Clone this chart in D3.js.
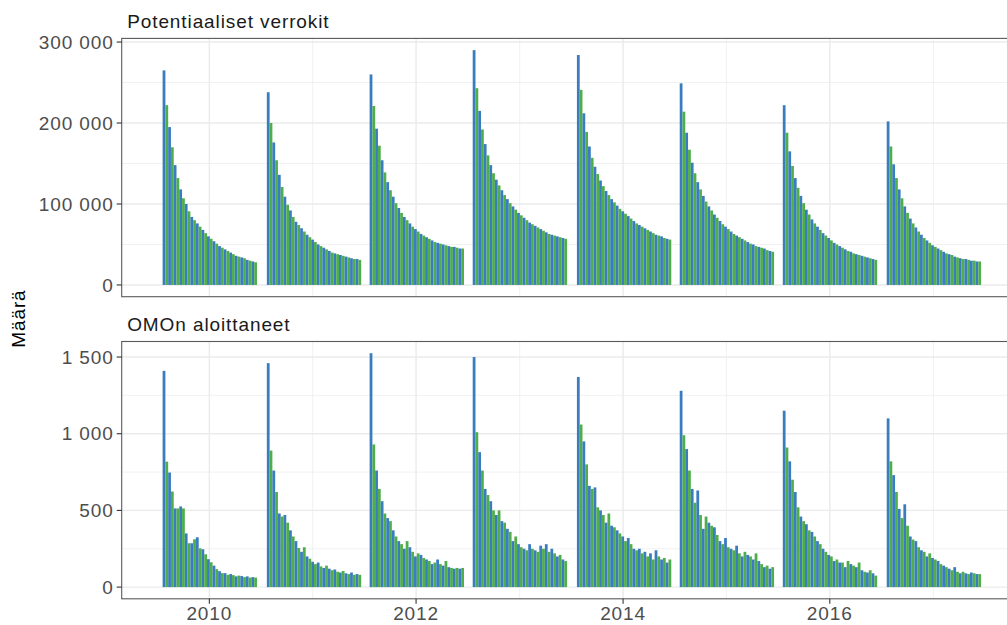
<!DOCTYPE html>
<html><head><meta charset="utf-8">
<script src="https://cdn.jsdelivr.net/npm/d3@7"></script>
<style>
body{margin:0;background:#fff;overflow:hidden}
text{font-family:"Liberation Sans",Arial,sans-serif}
</style>
</head><body><svg id="chart" width="1007" height="625"></svg>
<script>
// ---- data ----
const panelTitles = ["Potentiaaliset verrokit", "OMOn aloittaneet"];
const yTitle = "Määrä";
const seasonStarts = ["2009-07-20","2010-07-23","2011-07-21","2012-07-19","2013-07-22","2014-07-20","2015-07-19","2016-07-20"];
const periodDays = 9.8;
// Potentiaaliset verrokit (thousands)
const verrokitK = [
 [265,222,195,170,148,132,118,107,100,91,84,80,76,72,68,64,60,57,54,51,48,46,44,42,40,38,36,35,34,33,31,30,29,28],
 [238,200,176,154,136,121,109,99,92,84,78,74,70,66,62,59,56,53,50,48,46,44,42,40,39,38,37,36,35,34,33,32,32,31],
 [260,221,193,172,154,139,127,117,109,101,95,89,84,80,76,72,69,66,63,61,59,57,55,53,52,51,50,49,48,47,47,46,45,45],
 [290,243,215,192,174,160,148,138,130,123,117,111,106,101,97,93,89,86,83,80,77,75,73,71,69,67,65,63,62,61,60,59,58,57],
 [284,241,212,189,171,157,146,137,129,122,116,111,106,102,98,94,91,88,85,82,79,76,74,72,70,68,66,64,62,61,60,58,57,56],
 [249,214,188,167,151,138,127,118,110,103,97,92,87,83,79,75,72,69,66,63,61,59,57,55,53,51,50,48,47,46,45,43,42,41],
 [222,188,165,147,132,120,110,101,93,87,81,76,72,68,64,61,58,55,52,50,48,46,44,42,41,39,38,37,36,35,34,33,32,31],
 [202,171,149,132,118,107,97,89,82,76,71,66,62,58,55,52,49,47,45,43,41,39,38,37,35,34,33,32,32,31,30,30,29,29]
];
// OMOn aloittaneet
const aloittaneet = [
 [1410,818,747,623,513,513,526,513,350,286,286,312,325,253,247,214,182,162,140,117,104,91,91,80,85,78,70,75,72,65,70,62,65,62],
 [1460,890,760,620,480,460,470,420,370,330,300,255,230,260,200,185,165,150,160,135,125,140,120,110,115,100,95,105,90,85,95,80,85,80],
 [1525,930,760,640,560,480,450,430,370,330,300,280,250,300,260,230,200,220,210,190,180,170,150,160,180,150,140,170,130,125,120,125,120,125],
 [1500,1010,880,760,640,600,560,500,470,500,430,420,380,360,300,330,280,260,250,240,280,250,240,230,270,250,280,230,250,220,200,210,180,170],
 [1370,1060,950,800,660,640,650,520,500,470,420,480,400,390,370,350,330,300,320,280,250,240,250,220,230,200,220,180,240,200,180,190,160,180],
 [1280,990,900,760,640,550,630,470,380,460,420,400,390,340,300,280,320,260,250,240,270,220,200,230,210,200,180,220,170,150,130,140,120,130],
 [1150,910,820,700,620,520,460,430,410,370,360,330,300,280,250,230,210,200,170,180,160,160,130,170,150,140,130,160,110,100,95,110,90,75],
 [1100,820,730,620,510,450,540,400,330,310,300,260,240,230,200,220,190,180,170,150,140,130,120,110,130,100,90,100,90,85,95,90,85,85]
];
const yTicksTop = [0,100000,200000,300000];
const yMinorTop = [50000,150000,250000];
const yTicksBottom = [0,500,1000,1500];
const yMinorBottom = [250,750,1250];
const xTickYears = [2010,2012,2014,2016];
const xMinorYears = [2009,2011,2013,2015,2017];
const barColors = ["#3a7dbf","#4fae4b"];

// ---- layout ----
const W = 1007, H = 625;
const left = 121.7, right = 1022;
const panels = [
  {title: panelTitles[0], top: 38.4, bottom: 296.7, values: verrokitK.map(g => g.map(v => v*1000)), ticks: yTicksTop, minor: yMinorTop},
  {title: panelTitles[1], top: 341.5, bottom: 598.8, values: aloittaneet, ticks: yTicksBottom, minor: yMinorBottom}
];
const parse = d3.utcParse("%Y-%m-%d");
const DAY = 864e5;
const starts = seasonStarts.map(parse);

function barsFor(values){
  const out = [];
  values.forEach((g, gi) => g.forEach((v, i) => {
    const x0 = new Date(starts[gi].getTime() + i*periodDays*DAY);
    const x1 = new Date(starts[gi].getTime() + (i+1)*periodDays*DAY);
    out.push({x0, x1, v, i});
  }));
  return out;
}
const allBars = barsFor(panels[1].values);
const xmin = d3.min(allBars, d=>d.x0), xmax = d3.max(allBars, d=>d.x1);
const span = xmax - xmin;
const x = d3.scaleUtc().domain([new Date(+xmin - 0.05*span), new Date(+xmax + 0.05*span)]).range([left, right]);

const fmt = d3.formatLocale({decimal:",", thousands:" ", grouping:[3], currency:["",""]}).format(",");

const svg = d3.select("#chart");
svg.append("rect").attr("width",W).attr("height",H).attr("fill","#fff");
const defs = svg.append("defs");

const yearDate = y => new Date(Date.UTC(y,0,1));

panels.forEach((p, pi) => {
  const maxV = d3.max(p.values.flat());
  const y = d3.scaleLinear().domain([-0.05*maxV, 1.05*maxV]).range([p.bottom, p.top]);
  const g = svg.append("g");
  const clipId = "clip"+pi;
  defs.append("clipPath").attr("id",clipId).append("rect")
    .attr("x",left).attr("y",p.top).attr("width",right-left).attr("height",p.bottom-p.top);
  const pg = g.append("g").attr("clip-path",`url(#${clipId})`);
  // grid minor
  pg.selectAll(".gmx").data(xMinorYears).join("line")
    .attr("x1",d=>x(yearDate(d))).attr("x2",d=>x(yearDate(d)))
    .attr("y1",p.top).attr("y2",p.bottom).attr("stroke","#ebebeb").attr("stroke-width",0.7);
  pg.selectAll(".gmy").data(p.minor).join("line")
    .attr("x1",left).attr("x2",right).attr("y1",d=>y(d)).attr("y2",d=>y(d))
    .attr("stroke","#ebebeb").attr("stroke-width",0.7);
  // grid major
  pg.selectAll(".gMx").data(xTickYears).join("line")
    .attr("x1",d=>x(yearDate(d))).attr("x2",d=>x(yearDate(d)))
    .attr("y1",p.top).attr("y2",p.bottom).attr("stroke","#ebebeb").attr("stroke-width",1.4);
  pg.selectAll(".gMy").data(p.ticks).join("line")
    .attr("x1",left).attr("x2",right).attr("y1",d=>y(d)).attr("y2",d=>y(d))
    .attr("stroke","#ebebeb").attr("stroke-width",1.4);
  // bars
  const bars = barsFor(p.values);
  pg.selectAll(".bar").data(bars).join("rect")
    .attr("x",d=>x(d.x0)).attr("width",d=>x(d.x1)-x(d.x0))
    .attr("y",d=>y(d.v)).attr("height",d=>y(0)-y(d.v))
    .attr("fill",d=>barColors[d.i%2]);
  // border
  g.append("rect").attr("x",left).attr("y",p.top).attr("width",right-left).attr("height",p.bottom-p.top)
    .attr("fill","none").attr("stroke","#5a5a5a").attr("stroke-width",1.1);
  // y axis ticks
  g.selectAll(".yt").data(p.ticks).join("line")
    .attr("x1",left-5).attr("x2",left).attr("y1",d=>y(d)).attr("y2",d=>y(d))
    .attr("stroke","#333").attr("stroke-width",1.1);
  g.selectAll(".yl").data(p.ticks).join("text")
    .attr("x",left-8).attr("y",d=>y(d)).attr("dy","0.35em")
    .attr("text-anchor","end").attr("fill","#4d4d4d")
    .attr("font-size",19).attr("letter-spacing","0.9px")
    .text(d=>fmt(d));
  // strip title
  g.append("text").attr("x",left+5.5).attr("y",p.top-10.5)
    .attr("fill","#1a1a1a").attr("font-size",19).attr("letter-spacing","0.9px")
    .text(p.title);
  if (pi === panels.length-1){
    g.selectAll(".xt").data(xTickYears).join("line")
      .attr("x1",d=>x(yearDate(d))).attr("x2",d=>x(yearDate(d)))
      .attr("y1",p.bottom).attr("y2",p.bottom+5).attr("stroke","#333").attr("stroke-width",1.1);
    g.selectAll(".xl").data(xTickYears).join("text")
      .attr("x",d=>x(yearDate(d))).attr("y",p.bottom+21.5)
      .attr("text-anchor","middle").attr("fill","#4d4d4d")
      .attr("font-size",19).attr("letter-spacing","0.9px")
      .text(d=>d);
  }
});
svg.append("text").attr("transform",`translate(24.5,${(38.4+598.8)/2}) rotate(-90)`)
  .attr("text-anchor","middle").attr("fill","#000").attr("font-size",19).attr("letter-spacing","0.9px")
  .text(yTitle);
</script>
</body></html>
